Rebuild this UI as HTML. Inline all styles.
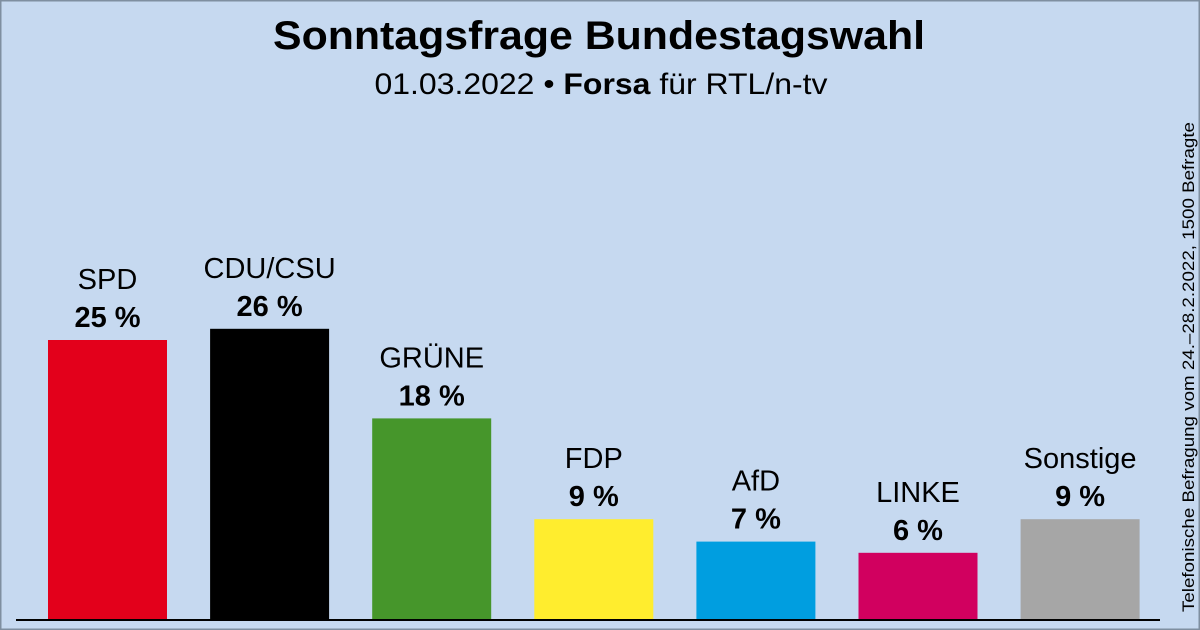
<!DOCTYPE html>
<html><head><meta charset="utf-8"><style>
html,body{margin:0;padding:0;background:#c6d9f0;}
svg{display:block;font-family:"Liberation Sans",Arial,sans-serif;}
</style></head><body>
<svg id="chart" width="1200" height="630" viewBox="0 0 1200 630">
<rect x="0.5" y="0.5" width="1199" height="629" fill="#c6d9f0" stroke="#7f8fa0" stroke-width="2"/>
<text x="599" y="49" font-size="40" font-weight="bold" text-anchor="middle" textLength="652" lengthAdjust="spacingAndGlyphs">Sonntagsfrage Bundestagswahl</text>
<text x="601" y="94" font-size="30" text-anchor="middle" textLength="453" lengthAdjust="spacingAndGlyphs">01.03.2022 • <tspan font-weight="bold">Forsa</tspan> für RTL/n-tv</text>
<text transform="translate(1194,367) rotate(-90)" font-size="17" text-anchor="middle" textLength="490" lengthAdjust="spacingAndGlyphs">Telefonische Befragung vom 24.–28.2.2022, 1500 Befragte</text>
<g id="bars"></g>
<line x1="16" y1="620" x2="1160" y2="620" stroke="#000" stroke-width="2"/>
</svg>
<script>
const parties = ["SPD","CDU/CSU","GRÜNE","FDP","AfD","LINKE","Sonstige"];
const values = [25,26,18,9,7,6,9];
const colors = ["#e3001b","#000000","#46962b","#ffed2e","#009ee0","#d1005f","#a6a6a6"];
const valueLabels = ["25 %","26 %","18 %","9 %","7 %","6 %","9 %"];
const NS="http://www.w3.org/2000/svg";
const baseY=620, pxPer=11.2, x0=48, step=162.1, bw=119;
function yScale(v){return baseY - v*pxPer;}
function xScale(i){return x0 + i*step;}
const g=document.getElementById('bars');
parties.forEach((p,i)=>{
  const x=xScale(i), top=yScale(values[i]);
  const r=document.createElementNS(NS,'rect');
  r.setAttribute('x',x);r.setAttribute('y',top);r.setAttribute('width',bw);r.setAttribute('height',baseY-top);r.setAttribute('fill',colors[i]);
  
  
  g.appendChild(r);
  const t1=document.createElementNS(NS,'text');
  t1.setAttribute('x',x+bw/2);t1.setAttribute('y',top-51);t1.setAttribute('font-size','29');t1.setAttribute('text-anchor','middle');
  t1.textContent=p;
  
  
  g.appendChild(t1);
  const t2=document.createElementNS(NS,'text');
  t2.setAttribute('x',x+bw/2);t2.setAttribute('y',top-13);t2.setAttribute('font-size','29');t2.setAttribute('font-weight','bold');t2.setAttribute('text-anchor','middle');
  t2.textContent=valueLabels[i];
  
  
  g.appendChild(t2);
});
</script>
</body></html>
